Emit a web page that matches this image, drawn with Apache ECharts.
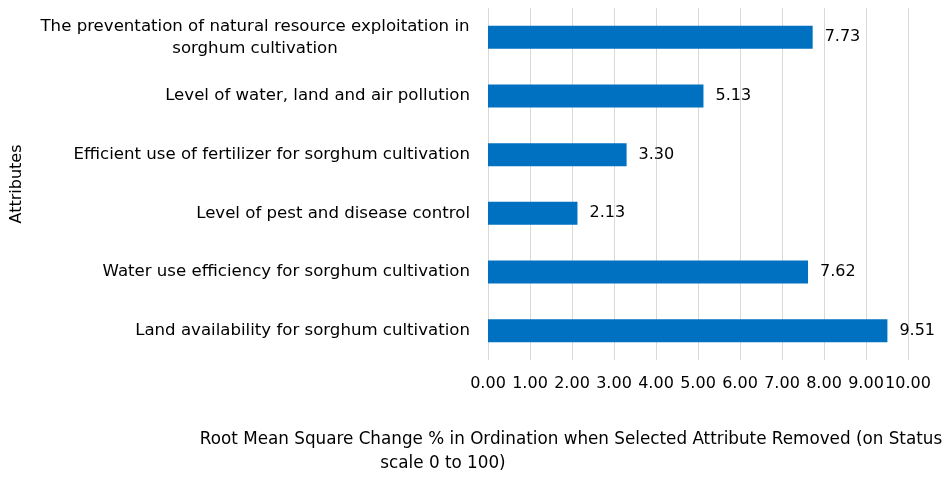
<!DOCTYPE html>
<html><head><meta charset="utf-8">
<script src="https://cdn.jsdelivr.net/npm/echarts@6/dist/echarts.min.js"></script>
<style>html,body{margin:0;padding:0;background:#fff}#c{width:952px;height:478px}</style>
</head><body><div id="c"></div>
<script>
const categories = [
  "Land availability for sorghum cultivation",
  "Water use efficiency for sorghum cultivation",
  "Level of pest and disease control",
  "Efficient use of fertilizer for sorghum cultivation",
  "Level of water, land and air pollution",
  "The preventation of natural resource exploitation in\nsorghum cultivation"
];
const values = [9.51, 7.62, 2.13, 3.30, 5.13, 7.73];
const xTitleLine1 = "Root Mean Square Change % in Ordination when Selected Attribute Removed (on Status";
const xTitleLine2 = "scale 0 to 100)";
const yTitle = "Attributes";

const FONT = "DejaVu Sans";
const FS = 16;
const CFS = 16.6;
const TFS = 16.8;

// measure widest line of multi-line labels so each block is centred and right-aligned
const ctx = document.createElement('canvas').getContext('2d');
ctx.font = CFS + 'px "' + FONT + '"';
function blockWidth(s) { return Math.ceil(Math.max(...s.split('\n').map(l => ctx.measureText(l).width))); }
const richStyles = {};
categories.forEach((c, i) => {
  if (c.indexOf('\n') >= 0) richStyles['c' + i] = {width: blockWidth(c), align: 'center', fontSize: CFS, fontFamily: FONT, color: '#000', lineHeight: 22};
});

const chart = echarts.init(document.getElementById('c'));
chart.setOption({
  animation: false,
  textStyle: {fontFamily: FONT},
  grid: {left: 488, right: 44, top: 8, height: 352},
  xAxis: {
    type: 'value', min: 0, max: 10, interval: 1,
    axisLine: {show: false}, axisTick: {show: false},
    splitLine: {lineStyle: {color: '#d9d9d9', width: 1}},
    axisLabel: {color: '#000', fontSize: FS, fontFamily: FONT, margin: 16, hideOverlap: false,
      formatter: v => v.toFixed(2)}
  },
  yAxis: {
    type: 'category', data: categories,
    axisLine: {show: false}, axisTick: {show: false},
    axisLabel: {color: '#000', fontSize: CFS, fontFamily: FONT, margin: 18, lineHeight: 22,
      formatter: (v, i) => v.indexOf('\n') >= 0 ? '{c' + i + '|' + v.split('\n').join('}\n{c' + i + '|') + '}' : v,
      rich: richStyles
    }
  },
  series: [{
    type: 'bar', data: values, barWidth: 23,
    itemStyle: {color: '#0070C0'},
    label: {show: true, position: 'right', distance: 12, color: '#000', fontSize: FS, fontFamily: FONT,
      formatter: p => p.value.toFixed(2)}
  }],
  graphic: [
    {type: 'text', style: {text: xTitleLine1, font: TFS + 'px "' + FONT + '"', fill: '#000', textAlign: 'center'}, position: [571, 431]},
    {type: 'text', style: {text: xTitleLine2, font: TFS + 'px "' + FONT + '"', fill: '#000', textAlign: 'center'}, position: [443, 455]},
    {type: 'text', rotation: Math.PI / 2, position: [9, 184], style: {text: yTitle, font: FS + 'px "' + FONT + '"', fill: '#000', textAlign: 'center'}}
  ]
});
</script></body></html>
